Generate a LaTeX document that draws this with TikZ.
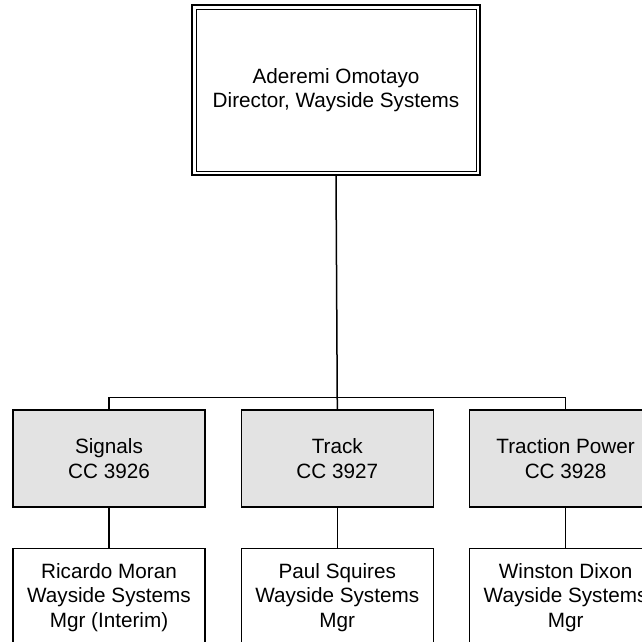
\documentclass[tikz,border=0pt]{standalone}
\usepackage{fontspec}
\setmainfont{Liberation Sans}
\usetikzlibrary{positioning, calc}
\newcommand{\orgfont}{\fontsize{20.7pt}{24.5pt}\selectfont}

\begin{document}
\begin{tikzpicture}[
    x=1pt, y=-1pt,
    node distance=40pt and 35pt,
    headbox/.style={rectangle, draw, line width=2pt, minimum width=288pt, minimum height=170pt, align=center, font=\orgfont},
    deptbox/.style={rectangle, draw, line width=1.3pt, fill=black!11, minimum width=192pt, minimum height=97pt, align=center, font=\orgfont},
    mgrbox/.style={rectangle, draw, line width=1.3pt, fill=white, minimum width=192pt, minimum height=98pt, align=center, font=\orgfont},
    link/.style={line width=1.5pt},
]
    \useasboundingbox (0,0) rectangle (642,641);
    \clip (0,0) rectangle (642,641);

    % Director
    \node[headbox] (dir) at (336,90) {Aderemi Omotayo\\Director, Wayside Systems};
    \draw[line width=0.9pt] ($(dir.north west)+(5,5)$) rectangle ($(dir.south east)+(-5,-5)$);

    % Cost centres
    \node[deptbox] (sig) at (109,458.5) {Signals\\CC 3926};
    \node[deptbox, right=of sig] (trk) {Track\\CC 3927};
    \node[deptbox, right=of trk] (trac) {Traction Power\\CC 3928};

    % Managers
    \node[mgrbox, below=of sig] (ric) {Ricardo Moran\\Wayside Systems\\Mgr (Interim)};
    \node[mgrbox, below=of trk] (paul) {Paul Squires\\Wayside Systems\\Mgr};
    \node[mgrbox, below=of trac] (win) {Winston Dixon\\Wayside Systems\\Mgr};

    % Connectors
    \coordinate (bus) at ($(trk.north)+(0,-12)$);
    \draw[link] (dir.south) -- (trk.north);
    \draw[link] (sig.north) |- (bus) -| (trac.north);
    \draw[link] (sig.south) -- (ric.north);
    \draw[link] (trk.south) -- (paul.north);
    \draw[link] (trac.south) -- (win.north);

\end{tikzpicture}
\end{document}
